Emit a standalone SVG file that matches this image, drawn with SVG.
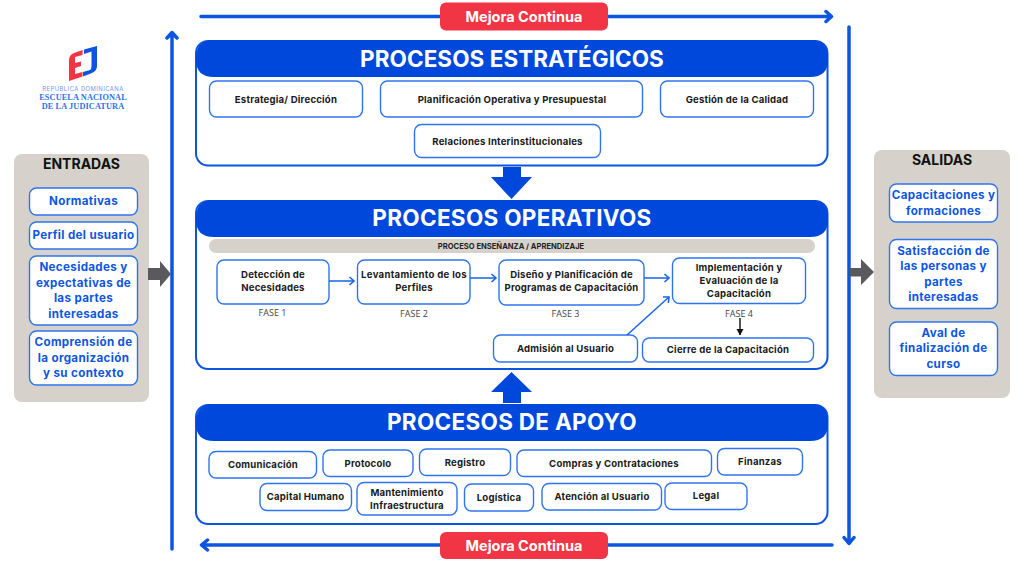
<svg xmlns="http://www.w3.org/2000/svg" width="1024" height="576" viewBox="0 0 1024 576">
<style>
text{font-family:"Inter","Liberation Sans",sans-serif;text-anchor:middle}
.panel{fill:#fff;stroke:#0b55e0;stroke-width:2}
.head{fill:#0047db}
.ht{fill:#fff;font-size:22.5px;font-weight:700;letter-spacing:.05px}
.box{fill:#fff;stroke:#2f74ee;stroke-width:1.4}
.t{fill:#1a1a1a;font-size:9.6px;font-weight:700;letter-spacing:.2px}
.b{fill:#0d55e0;font-size:11.6px;font-weight:700;letter-spacing:.35px}
.side{fill:#d6d2cb}
.st{fill:#111;font-size:14px;font-weight:700}
.fase{fill:#444;font-size:9px;font-family:"Open Sans",sans-serif}
.red{fill:#f23545}
.rt{fill:#fff;font-size:14.500px;font-weight:700}
.big{fill:none;stroke:#0b55e0;stroke-width:3.5;stroke-linecap:round;stroke-linejoin:round}
.thin{fill:none;stroke:#1763e6;stroke-width:1.5}
.blockb{fill:#0047db}
.grey{fill:#5a595e}
</style>
<defs>
<marker id="ah" markerUnits="userSpaceOnUse" markerWidth="8" markerHeight="10" refX="6" refY="5" orient="auto"><path d="M1.5 1 L6 5 L1.5 9" fill="none" stroke="#1763e6" stroke-width="1.6"/></marker>
<marker id="ak" markerUnits="userSpaceOnUse" markerWidth="8" markerHeight="8" refX="6" refY="4" orient="auto"><path d="M0 0.5 L6.5 4 L0 7.5 Z" fill="#111"/></marker>
</defs>

<g id="logo">
<path d="M82.500 50V55L75 57V63L81 61.500V66L75 68V74L82.500 72V76.500L69 81V60Q69 55 74 53Z" fill="#f23545"/>
<path d="M97 46V66Q97 71 92 73L83 76.500V72L90 70Q91.500 69 91.500 66V51.500L84 54V49.500Z" fill="#0d55e0"/>
<text x="83" y="90.500" style="font-size:5.800px;letter-spacing:.5px;fill:#6f9af0;font-weight:400">REPÚBLICA DOMINICANA</text>
<text x="83" y="99.500" style="font-size:8.300px;fill:#2f6fe8;font-weight:700;font-family:'Liberation Serif',serif;letter-spacing:.1px">ESCUELA NACIONAL</text>
<text x="83" y="109" style="font-size:8.300px;fill:#2f6fe8;font-weight:700;font-family:'Liberation Serif',serif;letter-spacing:.1px">DE LA JUDICATURA</text>
</g>

<g id="entradas">
<rect class="side" x="14" y="154" width="135" height="248" rx="8"/>
<text class="st" x="81.500" y="169">ENTRADAS</text>
<rect class="box" x="29.500" y="188" width="108" height="27" rx="7"/><text class="b" x="83.500" y="205">Normativas</text>
<rect class="box" x="29.500" y="222" width="108" height="27" rx="7"/><text class="b" x="83.500" y="239">Perfil del usuario</text>
<rect class="box" x="29.500" y="256" width="108" height="69" rx="7"/>
<text class="b" x="83.500" y="271">Necesidades y</text><text class="b" x="83.500" y="286.500">expectativas de</text><text class="b" x="83.500" y="302">las partes</text><text class="b" x="83.500" y="317.500">interesadas</text>
<rect class="box" x="29.500" y="331" width="108" height="54" rx="7"/>
<text class="b" x="83.500" y="346">Comprensión de</text><text class="b" x="83.500" y="361.500">la organización</text><text class="b" x="83.500" y="377">y su contexto</text>
</g>

<g id="salidas">
<rect class="side" x="874" y="150" width="136" height="248" rx="8"/>
<text class="st" x="942" y="165">SALIDAS</text>
<rect class="box" x="889.500" y="184" width="108" height="38" rx="7"/>
<text class="b" x="943.500" y="199">Capacitaciones y</text><text class="b" x="943.500" y="214.500">formaciones</text>
<rect class="box" x="889.500" y="239.500" width="108" height="69" rx="7"/>
<text class="b" x="943.500" y="254.500">Satisfacción de</text><text class="b" x="943.500" y="270">las personas y</text><text class="b" x="943.500" y="285.500">partes</text><text class="b" x="943.500" y="301">interesadas</text>
<rect class="box" x="889.500" y="322" width="108" height="53.500" rx="7"/>
<text class="b" x="943.500" y="337">Aval de</text><text class="b" x="943.500" y="352">finalización de</text><text class="b" x="943.500" y="368">curso</text>
</g>

<g id="estrategicos">
<rect class="panel" x="196" y="41" width="631.500" height="124.500" rx="12"/>
<path class="head" d="M214 40H810Q828 40 828 58V60Q828 77 810 77H214Q196 77 196 60V58Q196 40 214 40Z"/>
<text class="ht" x="512" y="66.500">PROCESOS ESTRATÉGICOS</text>
<rect class="box" x="209.500" y="81" width="153" height="36" rx="7"/><text class="t" x="286" y="102.500">Estrategia/ Dirección</text>
<rect class="box" x="380.500" y="81" width="262" height="36" rx="7"/><text class="t" x="512" y="102.500">Planificación Operativa y Presupuestal</text>
<rect class="box" x="660.500" y="81" width="153" height="36" rx="7"/><text class="t" x="737" y="102.500">Gestión de la Calidad</text>
<rect class="box" x="414.500" y="124.500" width="186" height="33" rx="7"/><text class="t" x="507.500" y="144.500">Relaciones Interinstitucionales</text>
</g>

<g id="operativos">
<rect class="panel" x="196" y="201" width="631.500" height="168" rx="12"/>
<path class="head" d="M214 200H810Q828 200 828 218V220Q828 237 810 237H214Q196 237 196 220V218Q196 200 214 200Z"/>
<text class="ht" x="512" y="226" style="letter-spacing:.3px">PROCESOS OPERATIVOS</text>
<rect class="side" x="209" y="239" width="606" height="14" rx="7"/>
<text x="511" y="248.500" style="fill:#222;font-size:7.600px;font-weight:700">PROCESO ENSEÑANZA / APRENDIZAJE</text>
<rect class="box" x="217" y="260" width="112" height="44" rx="7"/><text class="t" x="273" y="278">Detección de</text><text class="t" x="273" y="291">Necesidades</text>
<rect class="box" x="357.500" y="260" width="112.500" height="44" rx="7"/><text class="t" x="414" y="277.500" style="letter-spacing:.3px">Levantamiento de los</text><text class="t" x="414" y="290.500">Perfiles</text>
<rect class="box" x="499" y="260" width="145" height="45" rx="7"/><text class="t" x="571.500" y="278">Diseño y Planificación de</text><text class="t" x="571.500" y="291">Programas de Capacitación</text>
<rect class="box" x="672.500" y="258" width="133" height="45.500" rx="7"/><text class="t" x="739" y="271">Implementación y</text><text class="t" x="739" y="284">Evaluación de la</text><text class="t" x="739" y="297">Capacitación</text>
<text class="fase" x="272.500" y="316">FASE 1</text><text class="fase" x="414" y="317">FASE 2</text><text class="fase" x="565.500" y="317">FASE 3</text><text class="fase" x="739" y="317">FASE 4</text>
<rect class="box" x="493.500" y="335" width="144" height="27" rx="7"/><text class="t" x="565.500" y="351.500">Admisión al Usuario</text>
<rect class="box" x="642.500" y="338" width="171" height="24" rx="7"/><text class="t" x="728" y="353">Cierre de la Capacitación</text>
</g>

<g id="apoyo">
<rect class="panel" x="196" y="405" width="631.500" height="119" rx="12"/>
<path class="head" d="M214 404H810Q828 404 828 422V424Q828 441 810 441H214Q196 441 196 424V422Q196 404 214 404Z"/>
<text class="ht" x="512" y="430" style="letter-spacing:.3px">PROCESOS DE APOYO</text>
<rect class="box" x="209" y="451.500" width="107.500" height="26.500" rx="7"/><text class="t" x="263" y="467.500">Comunicación</text>
<rect class="box" x="323" y="450" width="90" height="26.500" rx="7"/><text class="t" x="368" y="466.500">Protocolo</text>
<rect class="box" x="419.500" y="449" width="91" height="26.500" rx="7"/><text class="t" x="465" y="465.500">Registro</text>
<rect class="box" x="517" y="450" width="194.500" height="26.500" rx="7"/><text class="t" x="614" y="466.500">Compras y Contrataciones</text>
<rect class="box" x="717.500" y="448.500" width="85" height="26.500" rx="7"/><text class="t" x="760" y="464.500">Finanzas</text>
<rect class="box" x="260" y="483.500" width="91.500" height="27" rx="7"/><text class="t" x="305.500" y="500">Capital Humano</text>
<rect class="box" x="357" y="482.500" width="100" height="32.500" rx="7"/><text class="t" x="407" y="495.500">Mantenimiento</text><text class="t" x="407" y="508.500">Infraestructura</text>
<rect class="box" x="464.500" y="484" width="69" height="27" rx="7"/><text class="t" x="499" y="500.500">Logística</text>
<rect class="box" x="542" y="483.500" width="119.500" height="26.500" rx="7"/><text class="t" x="602" y="499.500">Atención al Usuario</text>
<rect class="box" x="665" y="483" width="82" height="26.500" rx="7"/><text class="t" x="706" y="499">Legal</text>
</g>

<g id="connectors">
<path class="big" d="M201 16.500H831M826 11.500L831.500 16.500L826 21.500"/>
<path class="big" d="M832 545H202M207.500 540L201.500 545L207.500 550"/>
<path class="big" d="M172 549V33M167 38L172 32.500L177 38"/>
<path class="big" d="M849 27V543M844 537.500L849 543.500L854 537.500"/>
<path class="blockb" d="M503 167H521V177H532L511.500 199L491 177H503Z"/>
<path class="blockb" d="M503 403H521V392H532L511.500 372L491 392H503Z"/>
<path class="grey" d="M148 268H160V261L171 274L160 287V280H148Z"/>
<path class="grey" d="M850 268H861V259L874 272L861 285V276.500H850Z"/>
<path class="thin" marker-end="url(#ah)" d="M329 281H354"/>
<path class="thin" marker-end="url(#ah)" d="M470 278H496"/>
<path class="thin" marker-end="url(#ah)" d="M644 278H669"/>
<path class="thin" marker-end="url(#ah)" d="M627 335L669 297"/>
<path d="M740 318V335" fill="none" stroke="#111" stroke-width="1.4" marker-end="url(#ak)"/>
</g>

<g id="mejora-top"><rect class="red" x="440" y="2.500" width="168" height="28" rx="6"/><text class="rt" x="524" y="21.500">Mejora Continua</text></g>
<g id="mejora-bottom"><rect class="red" x="440" y="532" width="168" height="27" rx="6"/><text class="rt" x="524" y="550.500">Mejora Continua</text></g>
</svg>
